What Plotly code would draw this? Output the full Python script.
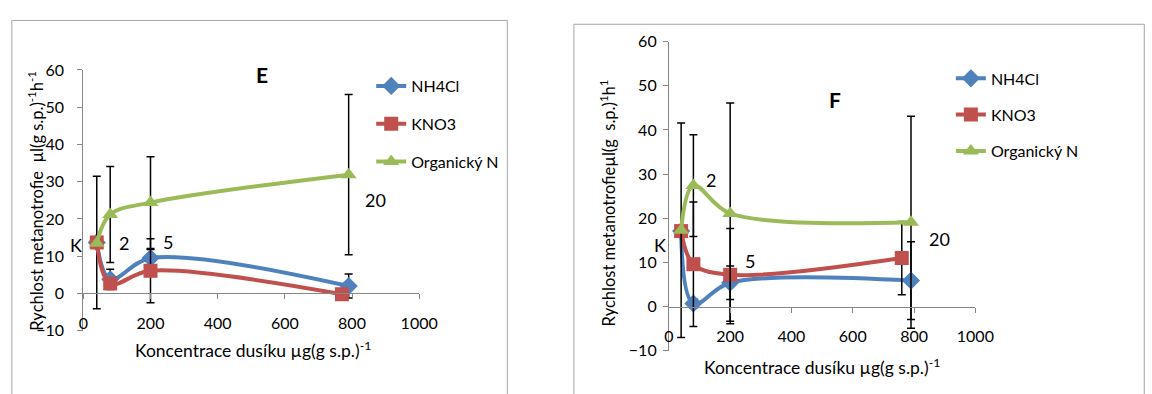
import plotly.graph_objects as go

# ---------------- data ----------------
series_names = ["NH4Cl", "KNO3", "Organický N"]
colors = ["#4F81BD", "#C0504D", "#9BBB59"]
symbols = ["diamond", "square", "triangle-up"]

# Panel E
e_nh4_x = [40, 80, 200, 790]
e_nh4_y = [13.7, 3.8, 9.5, 2.0]
e_nh4_err = [None, 2.7, 2.3, 3.2]
e_kno3_x = [40, 80, 200, 770]
e_kno3_y = [13.7, 2.7, 6.1, -0.2]
e_kno3_err = [17.8, None, 8.6, None]
e_org_x = [40, 80, 200, 790]
e_org_y = [13.5, 21.2, 24.4, 31.9]
e_org_err = [None, 12.9, 12.3, 21.5]

# Panel F
f_nh4_x = [40, 80, 200, 790]
f_nh4_y = [17.1, 0.7, 5.4, 5.9]
f_nh4_err = [None, 1.1, 3.8, 8.8]
f_kno3_x = [40, 80, 200, 760]
f_kno3_y = [17.1, 9.6, 7.2, 11.0]
f_kno3_err = [None, 14.1, 10.5, 8.3]
f_org_x = [40, 80, 200, 790]
f_org_y = [17.3, 27.4, 21.1, 19.1]
f_org_err = [24.3, 11.5, 25.0, 24.0]

x_ticks = [0, 200, 400, 600, 800, 1000]
y_ticks = [-10, 0, 10, 20, 30, 40, 50, 60]

x_title = "Koncentrace dusíku µg(g s.p.)<sup>-1</sup>"
e_y_title = "Rychlost metanotrofie  µl(g s.p.)<sup>-1</sup>h<sup>-1</sup>"
f_y_title = "Rychlost metanotrofieµl(g  s.p.)<sup>1</sup>h<sup>1</sup>"

# ---------------- figure ----------------
W, H = 1152, 394
FONT = "Lato, Carlito, Calibri, sans-serif"
AXC = "#868686"

fig = go.Figure()

panels = [
    dict(xa="x", ya="y", legend="legend",
         data=[(e_nh4_x, e_nh4_y, e_nh4_err), (e_kno3_x, e_kno3_y, e_kno3_err), (e_org_x, e_org_y, e_org_err)]),
    dict(xa="x2", ya="y2", legend="legend2",
         data=[(f_nh4_x, f_nh4_y, f_nh4_err), (f_kno3_x, f_kno3_y, f_kno3_err), (f_org_x, f_org_y, f_org_err)]),
]

for p in panels:
    for i, (xs, ys, errs) in enumerate(p["data"]):
        fig.add_trace(go.Scatter(
            x=xs, y=ys, name=series_names[i], mode="lines+markers",
            xaxis=p["xa"], yaxis=p["ya"], legend=p["legend"],
            legendgroup=p["legend"] + str(i),
            line=dict(color=colors[i], width=4, shape="spline", smoothing=1.0),
            marker=dict(symbol=symbols[i], size=14, color=colors[i], line=dict(width=0)),
            error_y=dict(type="data", array=errs, visible=True, color="black", thickness=1.5, width=4),
            cliponaxis=False,
        ))

def dom(a, b, total):
    return [a / total, b / total]

ex = dom(80, 423, W)
ey = [(H - 337) / H, (H - 63) / H]
fx = dom(678, 991, W)
fy = [(H - 358) / H, (H - 33.3) / H]

def zero_pos(d):
    return d[0] + (0 - (-10)) / 70 * (d[1] - d[0])

tickfont = dict(family=FONT, size=16, color="black")

common_x = dict(range=[0, 1000], tickvals=x_ticks, showline=True, linecolor=AXC, linewidth=1,
                ticks="outside", ticklen=5, tickcolor=AXC, showgrid=False, zeroline=False,
                tickfont=tickfont, anchor="free", ticklabelstandoff=10)
common_y = dict(range=[-10, 60], tickvals=y_ticks, showline=True, linecolor=AXC, linewidth=1,
                ticks="outside", ticklen=5, tickcolor=AXC, showgrid=False, zeroline=False,
                tickfont=tickfont)

legfont = dict(family=FONT, size=16, color="black")
fig.update_layout(
    width=W, height=H, margin=dict(l=0, r=0, t=0, b=0),
    paper_bgcolor="white", plot_bgcolor="rgba(0,0,0,0)",
    font=dict(family=FONT, size=16, color="black"),
    xaxis=dict(common_x, domain=ex, position=zero_pos(ey)),
    yaxis=dict(common_y, domain=ey, anchor="x", ticklabelstandoff=10),
    xaxis2=dict(common_x, domain=fx, position=zero_pos(fy)),
    yaxis2=dict(common_y, domain=fy, anchor="x2", ticklabelstandoff=3),
    legend=dict(x=374 / W, y=(H - 62) / H, xanchor="left", yanchor="top", bgcolor="rgba(0,0,0,0)",
                font=legfont, traceorder="grouped", tracegroupgap=14),
    legend2=dict(x=966 / W, y=(H - 54) / H, xanchor="left", yanchor="top", bgcolor="rgba(0,0,0,0)",
                 font=legfont, traceorder="grouped", tracegroupgap=12.5),
    showlegend=True,
)

# panel frames
fig.add_shape(type="rect", xref="paper", yref="paper", x0=7 / W, x1=513 / W, y0=-0.05, y1=(H - 11) / H,
              line=dict(color="#A6A6A6", width=1), layer="below")
fig.add_shape(type="rect", xref="paper", yref="paper", x0=581 / W, x1=1.01, y0=-0.05, y1=(H - 15) / H,
              line=dict(color="#A6A6A6", width=1), layer="below")

# axis titles (as annotations for exact placement)
xtf = dict(family=FONT, size=17.5, color="black")
ytf = dict(family=FONT, size=16.5, color="black")
C = dict(showarrow=False, xanchor="center", yanchor="middle")
fig.add_annotation(xref="paper", yref="paper", x=253 / W, y=(H - 357) / H, text=x_title, font=xtf, **C)
fig.add_annotation(xref="paper", yref="paper", x=834 / W, y=(H - 375) / H, text=x_title, font=xtf, **C)
fig.add_annotation(xref="paper", yref="paper", x=32 / W, y=(H - 200) / H, text=e_y_title,
                   font=ytf, textangle=-90, **C)
fig.add_annotation(xref="paper", yref="paper", x=616 / W, y=(H - 203) / H, text=f_y_title,
                   font=ytf, textangle=-90, **C)

lab = dict(family=FONT, size=18, color="black")
big = dict(family=FONT, size=21, color="black")
ann = [
    ("paper", "paper", 72 / W, (H - 247) / H, "K", lab),
    ("x", "y", 120, 13.6, "2", lab), ("x", "y", 251, 13.8, "5", lab),
    ("x", "y", 869, 25, "20", lab),
    ("x", "y", 531, 58.8, "<b>E</b>", big),
    ("paper", "paper", 669 / W, (H - 247) / H, "K", lab),
    ("x2", "y2", 137, 28.6, "2", lab), ("x2", "y2", 265, 10.3, "5", lab),
    ("x2", "y2", 882, 15.4, "20", lab),
    ("x2", "y2", 542, 47, "<b>F</b>", big),
]
for xr, yr, x, y, t, f in ann:
    fig.add_annotation(xref=xr, yref=yr, x=x, y=y, text=t, font=f, **C)

fig.write_html("out.html")
